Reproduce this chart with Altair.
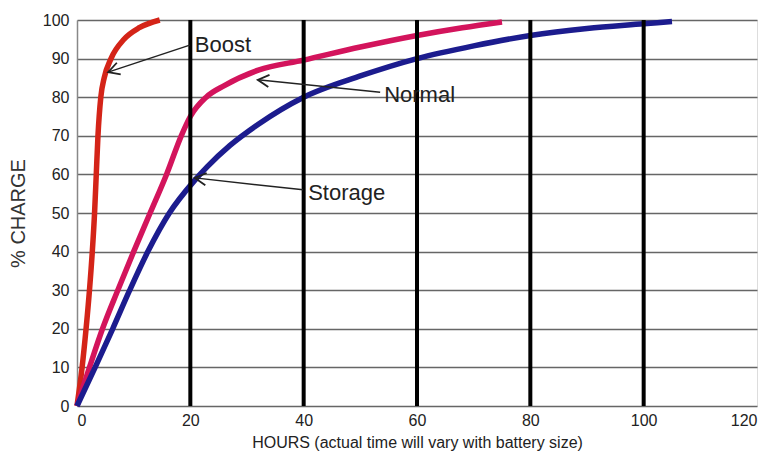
import math
import altair as alt
import pandas as pd

# ---- data ----
boost_x = [0, 0.9, 1.6, 2.2, 2.7, 3.1, 3.4, 3.7, 4.2, 4.8, 6.0, 8.3, 11.0, 14.6]
boost_y = [0, 10, 20, 30, 40, 50, 60, 70, 80, 85, 90, 95, 98, 100]

normal_x = [0, 2.2, 4.5, 7.2, 10.0, 12.9, 15.8, 18.4, 20.0, 22.8, 26.0, 32.0, 40.0, 50.0, 60.0, 68.0, 75.0]
normal_y = [0, 10, 20, 30, 40, 50, 60, 70, 75, 80, 83, 87, 89.6, 93, 96, 98, 99.5]

storage_x = [0, 3.2, 6.3, 9.3, 12.5, 16.3, 20.5, 23, 27, 32, 40, 50, 60, 70, 80, 90, 100, 105]
storage_y = [0, 10, 20, 30, 40, 50, 58, 62, 67.5, 73, 80, 85.5, 90, 93.3, 96, 97.8, 99, 99.6]

series_names = ["Boost", "Normal", "Storage"]
series_colors = ["#d42418", "#d3145c", "#1c1c8e"]

# annotation labels: text anchor and arrow (start -> tip)
ann_text = ["Boost", "Normal", "Storage"]
ann_tx = [20.8, 54.2, 40.8]
ann_ty = [93.5, 80.6, 55.2]
arrow_x0 = [19.9, 53.5, 39.9]
arrow_y0 = [93.5, 81.3, 56.0]
arrow_x1 = [5.5, 31.9, 20.8]
arrow_y1 = [86.5, 84.5, 59.1]

vlines = [20, 40, 60, 80, 100]
x_ticks = [0, 20, 40, 60, 80, 100, 120]
y_ticks = [0, 10, 20, 30, 40, 50, 60, 70, 80, 90, 100]

W, H = 680, 386
XMAX, YMAX = 120, 100
FONT = "Liberation Sans"

rows = []
for name, xs_, ys_ in [("Boost", boost_x, boost_y), ("Normal", normal_x, normal_y), ("Storage", storage_x, storage_y)]:
    for i, (a, b) in enumerate(zip(xs_, ys_)):
        rows.append({"series": name, "x": a, "y": b, "o": i})
curves_df = pd.DataFrame(rows)

ang = []
for x0, y0, x1, y1 in zip(arrow_x0, arrow_y0, arrow_x1, arrow_y1):
    dxp = (x1 - x0) * W / XMAX
    dyp = -(y1 - y0) * H / YMAX
    ang.append(math.degrees(math.atan2(dyp, dxp)) % 360)

ann_df = pd.DataFrame({
    "text": ann_text, "tx": ann_tx, "ty": ann_ty,
    "x0": arrow_x0, "y0": arrow_y0, "x1": arrow_x1, "y1": arrow_y1, "ang": ang,
})
vl_df = pd.DataFrame({"x": vlines})

xs = alt.Scale(domain=[0, XMAX], nice=False)
ys = alt.Scale(domain=[0, YMAX], nice=False)

x_axis = alt.Axis(
    values=x_ticks, title="HOURS (actual time will vary with battery size)",
    grid=False, ticks=False, domain=False, labelFontSize=16, labelPadding=6,
    labelColor="#222", labelFont=FONT, titleFont=FONT, titleFontSize=16,
    titleFontWeight="normal", titleColor="#222", titleY=36, titleBaseline="middle")
y_axis = alt.Axis(
    values=y_ticks, title="% CHARGE", grid=True, gridColor="#666", gridWidth=1.5,
    ticks=False, domain=True, domainColor="#888", domainWidth=1.5,
    labelFontSize=16, labelPadding=8, labelColor="#222", labelFont=FONT,
    labelOverlap=False,
    titleFont=FONT, titleFontSize=20, titleFontWeight="normal", titleColor="#333",
    titleX=-59, titleBaseline="middle")


def X(f):
    return alt.X(f, scale=xs, axis=x_axis)


def Y(f):
    return alt.Y(f, scale=ys, axis=y_axis)


curves = alt.Chart(curves_df).mark_line(strokeWidth=5.5, interpolate="monotone").encode(
    x=X("x:Q"), y=Y("y:Q"),
    color=alt.Color("series:N", scale=alt.Scale(domain=series_names, range=series_colors), legend=None),
    order="o:Q",
)

rules = alt.Chart(vl_df).mark_rule(color="black", strokeWidth=4).encode(
    x=X("x:Q"),
)

shafts = alt.Chart(ann_df).mark_rule(color="#222", strokeWidth=1.5).encode(
    x=X("x0:Q"), y=Y("y0:Q"),
    x2="x1:Q", y2="y1:Q",
)

heads = alt.Chart(ann_df).mark_point(
    shape="M -1 -0.55 L 0 0 L -1 0.55", filled=False, color="#222",
    strokeWidth=1.8, size=500, opacity=1,
).encode(
    x=X("x1:Q"), y=Y("y1:Q"),
    angle=alt.Angle("ang:Q", scale=None),
)

texts = alt.Chart(ann_df).mark_text(
    align="left", baseline="middle", fontSize=22, font=FONT, color="#222",
).encode(
    x=X("tx:Q"), y=Y("ty:Q"), text="text:N",
)

chart = alt.layer(curves, rules, shafts, heads, texts).properties(
    width=W, height=H,
    autosize=alt.AutoSizeParams(type="none"),
    padding={"left": 69, "top": 12, "right": 4, "bottom": 45},
).configure_view(stroke="#888", strokeWidth=1.5).configure(background="white")

chart.save("out.html", embed_options={"renderer": "svg", "actions": False})
